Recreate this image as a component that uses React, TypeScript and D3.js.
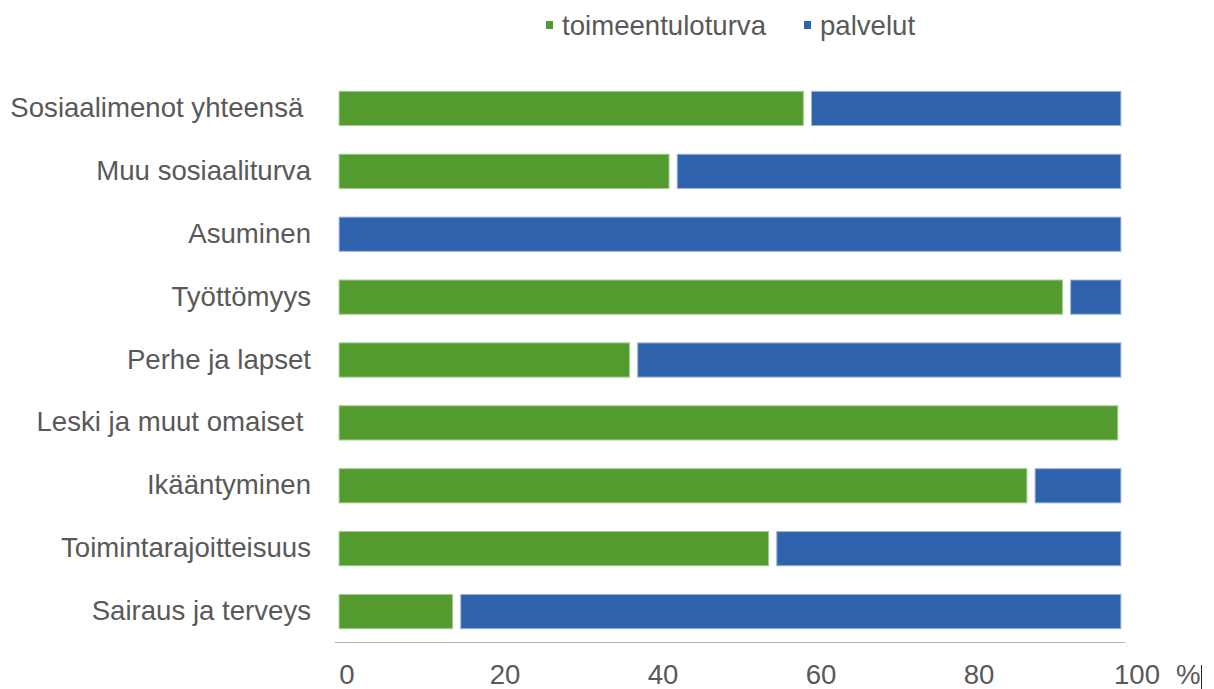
import React from 'react';
import * as d3 from 'd3';

// categories, top to bottom
const categories = [
  'Sosiaalimenot yhteensä ',
  'Muu sosiaaliturva',
  'Asuminen',
  'Työttömyys',
  'Perhe ja lapset',
  'Leski ja muut omaiset ',
  'Ikääntyminen',
  'Toimintarajoitteisuus',
  'Sairaus ja terveys',
];

// share of spending, %
const toimeentuloturva = [59.8, 42.8, 0, 92.6, 37.8, 99.6, 88.1, 55.4, 15.4];
const palvelut = [40.2, 57.2, 100, 7.4, 62.2, 0.4, 11.9, 44.6, 84.6];

const seriesKeys = ['toimeentuloturva', 'palvelut'];
const seriesColors = ['#539a2f', '#2f62ac'];
const seriesStroke = ['#a3cc8e', '#9db6dc'];
const tickValues = [0, 20, 40, 60, 80, 100];

const W = 1214;
const H = 689;
const FONT = '"Liberation Sans", Arial, sans-serif';
const TEXT = '#595959';
const FS = 27.6;

export default function App() {
  const rows = categories.map((c, i) => ({
    cat: c,
    toimeentuloturva: toimeentuloturva[i],
    palvelut: palvelut[i],
  }));

  const stacked = d3.stack<any>().keys(seriesKeys)(rows);

  const x = d3.scaleLinear().domain([0, 100]).range([335, 1125]);
  const y = d3
    .scaleBand<string>()
    .domain(categories)
    .range([77, 643])
    .paddingInner(0.44)
    .paddingOuter(0.22);

  const gap = 3.6; // white gap around each segment

  return (
    <svg
      width={W}
      height={H}
      style={{ position: 'absolute', left: 0, top: 0, background: '#fff' }}
      fontFamily={FONT}
    >
      {/* legend */}
      <g>
        <rect x={546} y={21} width={7} height={8} fill={seriesColors[0]} />
        <text x={562} y={34.5} fontSize={FS} fill={TEXT}>
          toimeentuloturva
        </text>
        <rect x={804} y={21} width={7} height={8} fill={seriesColors[1]} />
        <text x={820} y={34.5} fontSize={FS} fill={TEXT}>
          palvelut
        </text>
      </g>

      {/* category labels */}
      {categories.map((c) => (
        <text
          key={c}
          x={311}
          y={(y(c) ?? 0) + y.bandwidth() / 2 + 8.5}
          textAnchor="end"
          fontSize={FS}
          fill={TEXT}
          style={{ whiteSpace: 'pre' }}
        >
          {c}
        </text>
      ))}

      {/* bars */}
      {stacked.map((s, si) => (
        <g key={s.key}>
          {s.map((d, i) => {
            const w = x(d[1]) - x(d[0]) - 2 * gap;
            if (w <= 0) return null;
            return (
              <rect
                key={i}
                x={x(d[0]) + gap + 0.5}
                y={(y(categories[i]) ?? 0) + 0.5}
                width={w - 1}
                height={y.bandwidth() - 1}
                fill={seriesColors[si]}
                stroke={seriesStroke[si]}
                strokeWidth={1}
              />
            );
          })}
        </g>
      ))}

      {/* x axis */}
      <line x1={x(0)} x2={x(100)} y1={642.5} y2={642.5} stroke="#b3b3b3" strokeWidth={1.2} />
      {tickValues.map((t) => (
        <text key={t} x={x(t) + 12} y={684} textAnchor="middle" fontSize={FS} fill={TEXT}>
          {t}
        </text>
      ))}
      <text x={1176} y={684} fontSize={FS} fill={TEXT}>
        %
      </text>
      <line x1={1201.5} x2={1201.5} y1={665} y2={689} stroke="#222" strokeWidth={1} />
    </svg>
  );
}
